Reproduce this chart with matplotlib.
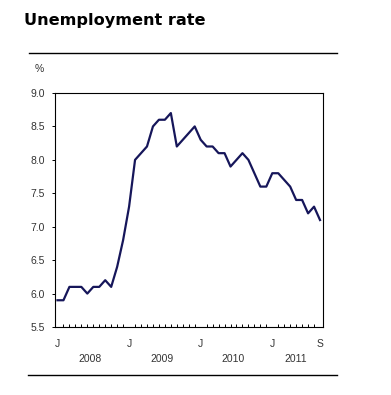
import matplotlib
matplotlib.use("Agg")
import matplotlib.pyplot as plt
from matplotlib.lines import Line2D
import matplotlib.transforms as mtransforms

title = "Unemployment rate"
unit_label = "%"
rates = [5.9, 5.9, 6.1, 6.1, 6.1, 6.0, 6.1, 6.1, 6.2, 6.1, 6.4, 6.8,
         7.3, 8.0, 8.1, 8.2, 8.5, 8.6, 8.6, 8.7, 8.2, 8.3, 8.4, 8.5,
         8.3, 8.2, 8.2, 8.1, 8.1, 7.9, 8.0, 8.1, 8.0, 7.8, 7.6, 7.6,
         7.8, 7.8, 7.7, 7.6, 7.4, 7.4, 7.2, 7.3, 7.1]
month_tick_pos = [0, 12, 24, 36, 44]
month_tick_labels = ["J", "J", "J", "J", "S"]
years = ["2008", "2009", "2010", "2011"]
year_centers = [5.5, 17.5, 29.5, 40.0]
yticks = [5.5, 6.0, 6.5, 7.0, 7.5, 8.0, 8.5, 9.0]

W, H = 391, 395
fig = plt.figure(figsize=(W / 100, H / 100), dpi=100)
ax = fig.add_axes([54.5 / W, 1 - 327 / H, (323 - 54.5) / W, (327 - 93) / H])

x = list(range(len(rates)))
ax.plot(x, rates, color="#16165a", lw=1.6, solid_joinstyle="round")
ax.set_xlim(-0.5, len(rates) - 0.5)
ax.set_ylim(5.5, 9.0)

lab_font = dict(family=["Liberation Sans", "DejaVu Sans"], size=7.5)
ax.set_yticks(yticks)
ax.set_yticklabels([f"{v:.1f}" for v in yticks], color="#333333", **lab_font)
ax.tick_params(axis="y", direction="out", length=2, width=0.7, pad=5)

ax.set_xticks(x, minor=True)
ax.set_xticks(month_tick_pos)
ax.set_xticklabels(month_tick_labels, color="#333333", **lab_font)
ax.tick_params(axis="x", which="minor", direction="in", length=2.2, width=0.7)
ax.tick_params(axis="x", which="major", direction="in", length=0, pad=8.5)

for s in ax.spines.values():
    s.set_linewidth(0.8)
    s.set_color("black")

trans = mtransforms.blended_transform_factory(ax.transData, ax.transAxes)
for yr, c in zip(years, year_centers):
    ax.text(c, -0.136, yr, transform=trans, ha="center", va="center",
            color="#333333", **lab_font)

fig.text(24 / W, 1 - 25 / H, title, fontsize=11.6, fontweight="bold",
         family="DejaVu Sans", ha="left", va="baseline", color="black")
fig.text(35 / W, 1 - 69 / H, unit_label, ha="left", va="center",
         color="#333333", **lab_font)

fig.add_artist(Line2D([29 / W, 337 / W], [1 - 53 / H, 1 - 53 / H], color="black", lw=1.0))
fig.add_artist(Line2D([28 / W, 337 / W], [1 - 375 / H, 1 - 375 / H], color="black", lw=1.0))

fig.savefig("out.png", dpi=100, facecolor="white")
